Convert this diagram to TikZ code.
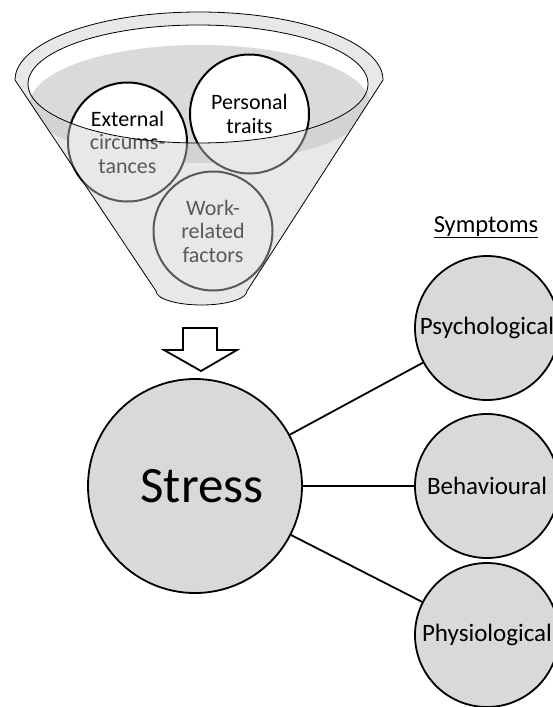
\documentclass[tikz,border=0pt]{standalone}
\usepackage{fontspec}
\setmainfont{Carlito}
\definecolor{symgray}{HTML}{D9D9D9}
\definecolor{bandgray}{HTML}{DADADA}
\begin{document}
\begin{tikzpicture}[x=1pt,y=-1pt,
  fcirc/.style={circle,draw=black,line width=2pt,fill=white,inner sep=0pt,minimum size=119pt,align=center,font=\fontsize{22}{23.5}\selectfont},
  scirc/.style={circle,draw=black,line width=1.8pt,fill=symgray,inner sep=0pt,minimum size=144pt,font=\fontsize{25}{28}\selectfont},
  link/.style={draw=black,line width=1.8pt},
  rim/.style={draw=black,line width=0.8pt}]
\useasboundingbox (0,0) rectangle (553,707);
\clip (0,0) rectangle (553,707);
\def\funnelpath{(15,80) arc[start angle=180,end angle=360,x radius=184,y radius=68] -- (247,291) arc[start angle=0,end angle=180,x radius=45.5,y radius=14] -- cycle}
% funnel background
\fill[white] \funnelpath;
\begin{scope}
  \clip \funnelpath;
  \fill[bandgray] (200,104) ellipse[x radius=170,y radius=59];
\end{scope}
% factor circles
\node[fcirc] (ext) at (127.5,142) {External\\circums-\\tances};
\node[fcirc] (pers) at (249.5,114) {Personal\\traits};
\node[fcirc] (work) at (213,231) {Work-\\related\\factors};
% translucent funnel front
\fill[black!20,opacity=0.44,even odd rule] \funnelpath (198,84) ellipse[x radius=170,y radius=59];
\draw[rim] \funnelpath;
\draw[rim] (198,84) ellipse[x radius=170,y radius=59];
% block arrow
\draw[line width=1.8pt,fill=white,line join=miter] (183,328) -- (217,328) -- (217,350) -- (237,350) -- (201,371) -- (164,350) -- (183,350) -- cycle;
% stress
\node[circle,draw=black,line width=1.8pt,fill=symgray,inner sep=0pt,minimum size=214pt,font=\fontsize{51}{55}\selectfont] (stress) at (195,486) {\hspace{14pt}Stress};
% symptoms
\node[font=\fontsize{24.5}{28}\selectfont,anchor=base] (symp) at (486,232) {\underline{Symptoms}};
\node[scirc] (psy) at (487,328) {Psychological};
\node[scirc] (beh) at (487,486) {Behavioural};
\node[scirc] (phy) at (487,635) {Physiological};
\draw[link] (stress) -- (psy);
\draw[link] (stress) -- (beh);
\draw[link] (stress) -- (phy);
\end{tikzpicture}
\end{document}
